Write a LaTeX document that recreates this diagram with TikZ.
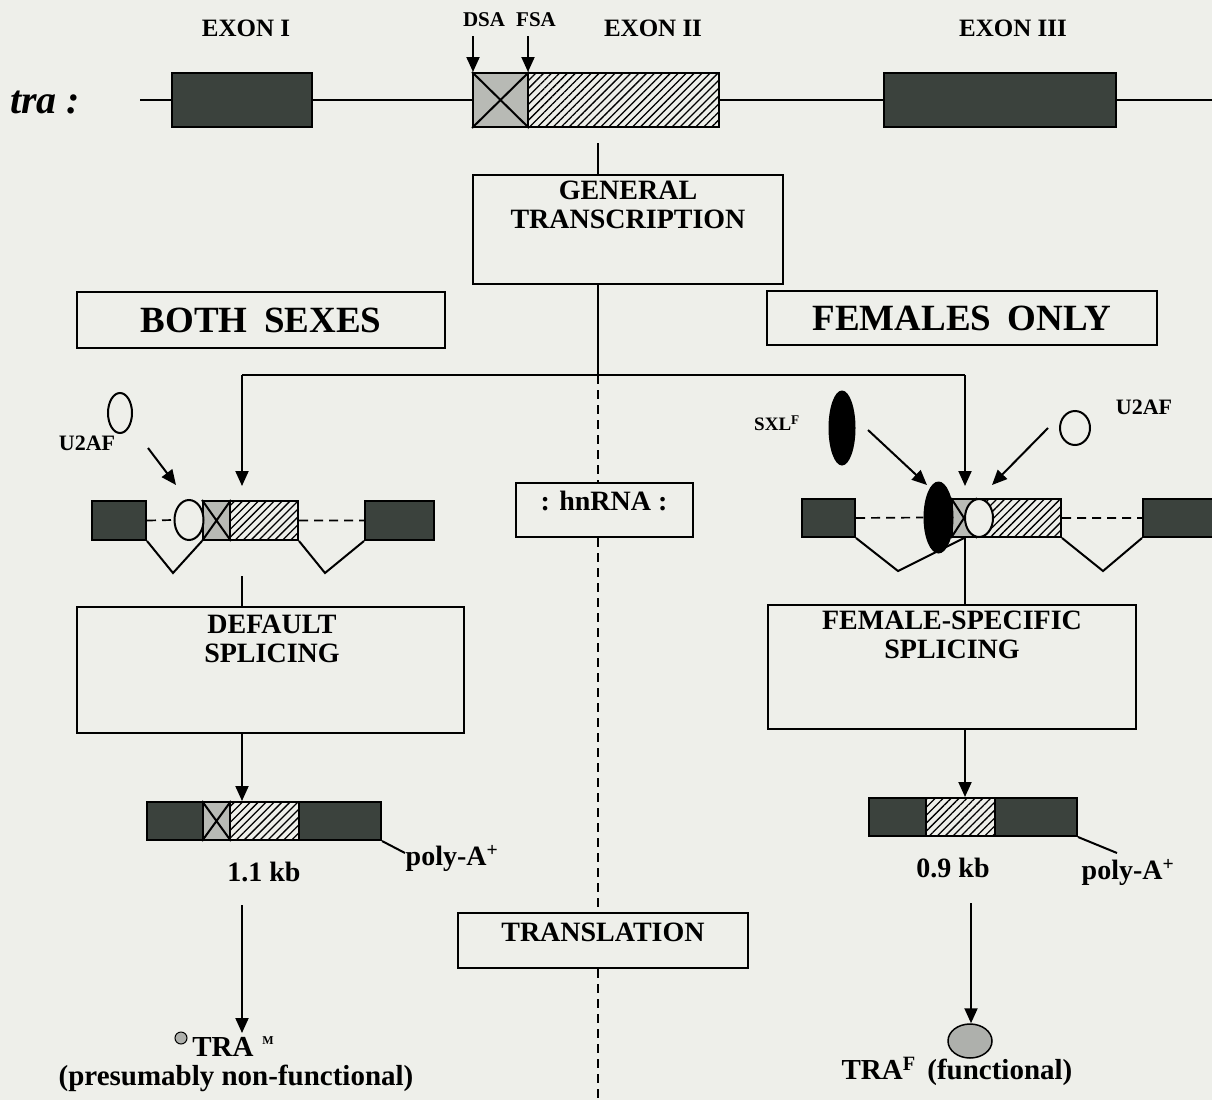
\documentclass[tikz,border=0pt]{standalone}
\usepackage{fontspec}
\setmainfont{Liberation Serif}
\usetikzlibrary{arrows.meta,patterns.meta,shapes.geometric}
\definecolor{bgc}{HTML}{EEEFEA}
\definecolor{exdark}{HTML}{3B423D}
\definecolor{exgray}{HTML}{B8BAB5}
\definecolor{protgray}{HTML}{AEB0AC}
\tikzset{
  ln/.style={line width=2pt},
  arr/.style={line width=2pt,-{Triangle[length=15pt,width=13pt]}},
  dsh/.style={line width=1.7pt,dash pattern=on 9pt off 6pt},
  blk/.style={draw,line width=2pt,inner sep=0},
  dk/.style={blk,fill=exdark},
  gr/.style={blk,fill=exgray},
  ht/.style={blk,pattern={Lines[angle=45,distance=5.6pt,line width=1.3pt]}},
  bx/.style={draw,line width=2pt,inner sep=0},
  txt/.style={inner sep=0,align=center,font=\bfseries\fontsize{#1}{29}\selectfont},
  oval/.style={ellipse,draw,line width=2pt,inner sep=0,fill=bgc},
}
\begin{document}
\begin{tikzpicture}[x=1pt,y=-1pt]
\useasboundingbox (0,0) rectangle (1212,1100);
\fill[bgc] (0,0) rectangle (1212,1100);

% ---------- gene ----------
\node[inner sep=0,font=\bfseries\itshape\fontsize{40}{40}\selectfont] (tra) at (45,103) {tra :};
\node[dk,minimum width=140,minimum height=54] (ex1) at (242,100) {};
\node[gr,minimum width=55,minimum height=54] (ex2g) at (500.5,100) {};
\node[ht,minimum width=191,minimum height=54] (ex2h) at (623.5,100) {};
\node[dk,minimum width=232,minimum height=54] (ex3) at (1000,100) {};
\draw[ln] (ex2g.north west) -- (ex2g.south east) (ex2g.north east) -- (ex2g.south west);
\coordinate (gL) at (140,100);
\coordinate (gR) at (1212,100);
\draw[ln] (gL) -- (ex1.west) (ex1.east) -- (ex2g.west) (ex2h.east) -- (ex3.west) (ex3.east) -- (gR);

\node[txt=25] (lex1) at (246,28) {EXON I};
\node[txt=21] (ldsa) at (484,20) {DSA};
\node[txt=21] (lfsa) at (536,20) {FSA};
\node[txt=25] (lex2) at (653,28) {EXON II};
\node[txt=25] (lex3) at (1013,28) {EXON III};
\coordinate (dsa0) at (473,36);
\coordinate (fsa0) at (528,36);
\draw[arr] (dsa0) -- (dsa0 |- ex2g.north);
\draw[arr] (fsa0) -- (fsa0 |- ex2g.north);

% ---------- general transcription ----------
\coordinate (gt0) at (598,143);
\node[bx,minimum width=310,minimum height=109] (gt) at (628,229.5) {};
\node[txt=28] (gtt) at (628,205) {GENERAL\\TRANSCRIPTION};
\draw[ln] (gt0) -- (gt0 |- gt.north);
\coordinate (split) at (598,375);
\coordinate (spL) at (242,375);
\coordinate (spR) at (965,375);
\draw[ln] (split |- gt.south) -- (split);
\draw[ln] (spL) -- (spR);

\node[bx,txt=37,minimum width=368,minimum height=56] (both) at (261,320) {BOTH\hspace{0.45em}SEXES};
\node[bx,txt=37,minimum width=390,minimum height=54] (fem) at (962,318) {FEMALES\hspace{0.45em}ONLY};

% ---------- middle column ----------
\node[bx,minimum width=177,minimum height=54] (hn) at (604.5,510) {};
\node[txt=28] (hnt) at (604,501) {: hnRNA :};
\node[bx,minimum width=290,minimum height=55] (tr) at (603,940.5) {};
\node[txt=28] (trt) at (603,932) {TRANSLATION};
\coordinate (bottom) at (598,1100);
\draw[dsh] (split) -- (split |- hn.north) (split |- hn.south) -- (split |- tr.north) (split |- tr.south) -- (bottom);

% ---------- left branch ----------
\coordinate (aL) at (242,486);
\draw[arr] (spL) -- (aL);
\node[dk,minimum width=54,minimum height=39] (L1) at (119,520.5) {};
\node[gr,minimum width=27,minimum height=39] (Lg) at (216.5,520.5) {};
\node[ht,minimum width=68,minimum height=39] (Lh) at (264,520.5) {};
\node[dk,minimum width=69,minimum height=39] (L3) at (399.5,520.5) {};
\draw[ln] (Lg.north west) -- (Lg.south east) (Lg.north east) -- (Lg.south west);
\node[oval,minimum width=29,minimum height=40] (Lu) at (189,520) {};
\draw[dsh] (L1.east) -- (Lu.west) (Lh.east) -- (L3.west);
\coordinate (vL1) at (173,573);
\coordinate (vL2) at (325,573);
\draw[ln] (L1.south east) -- (vL1) -- (Lg.south west);
\draw[ln] (Lh.south east) -- (vL2) -- (L3.south west);
\node[oval,minimum width=24,minimum height=40] (Lu0) at (120,413) {};
\node[txt=22] (lu2l) at (87,443) {U2AF};
\coordinate (aLu0) at (148,448);
\coordinate (aLu1) at (176,485);
\draw[arr] (aLu0) -- (aLu1);
\coordinate (Lbelow) at (242,576);
\node[bx,minimum width=387,minimum height=126] (ds) at (270.5,670) {};
\node[txt=28] (dst) at (272,639) {DEFAULT\\SPLICING};
\draw[ln] (Lbelow) -- (Lbelow |- ds.north);

\node[dk,minimum width=56,minimum height=38] (mL1) at (175,821) {};
\node[gr,minimum width=27,minimum height=38] (mLg) at (216.5,821) {};
\node[ht,minimum width=69,minimum height=38] (mLh) at (264.5,821) {};
\node[dk,minimum width=82,minimum height=38] (mL4) at (340,821) {};
\draw[ln] (mLg.north west) -- (mLg.south east) (mLg.north east) -- (mLg.south west);
\draw[arr] (spL |- ds.south) -- (spL |- mLh.north);
\node[txt=28] (pAL) at (452,858) {poly-A\textsuperscript{+}};
\coordinate (pALe) at (405,853);
\draw[ln] (mL4.south east) -- (pALe);
\node[txt=28] (kbL) at (264,872) {1.1 kb};
\coordinate (trL0) at (242,905);
\coordinate (trL1) at (242,1033);
\draw[arr] (trL0) -- (trL1);
\node[circle,draw,line width=1pt,fill=protgray,inner sep=0,minimum size=12] (pm) at (181,1038) {};
\node[txt=29] (traM) at (223,1047) {TRA};
\node[txt=12] (traMs) at (268,1041) {M};
\node[txt=29] (pnf) at (236,1078) {(presumably non-functional)};

% ---------- right branch ----------
\coordinate (aR) at (965,486);
\draw[arr] (spR) -- (aR);
\node[dk,minimum width=53,minimum height=38] (R1) at (828.5,518) {};
\node[gr,minimum width=24,minimum height=38] (Rg) at (964,518) {};
\node[ht,minimum width=85,minimum height=38] (Rh) at (1018.5,518) {};
\node[dk,minimum width=74,minimum height=38] (R3) at (1180,518) {};
\draw[ln] (Rg.north west) -- (Rg.south east) (Rg.north east) -- (Rg.south west);
\node[oval,minimum width=28,minimum height=38] (Ru) at (979,518) {};
\node[ellipse,fill=black,inner sep=0,minimum width=30,minimum height=72] (Sx) at (938.5,517.5) {};
\draw[dsh] (R1.east) -- (Sx.west) (Rh.east) -- (R3.west);
\coordinate (vR1) at (898,571);
\coordinate (vR2) at (1103,571);
\draw[ln] (R1.south east) -- (vR1) -- (Rg.south);
\draw[ln] (Rh.south east) -- (vR2) -- (R3.south west);
\node[ellipse,fill=black,inner sep=0,minimum width=27,minimum height=75] (Sx0) at (842,428) {};
\node[txt=19] (lsxl) at (777,423) {SXL\textsuperscript{F}};
\coordinate (aSx0) at (868,430);
\coordinate (aSx1) at (927,485);
\draw[arr] (aSx0) -- (aSx1);
\node[oval,minimum width=30,minimum height=34] (Ru0) at (1075,428) {};
\node[txt=22] (lu2r) at (1144,407) {U2AF};
\coordinate (aRu0) at (1048,428);
\coordinate (aRu1) at (992,485);
\draw[arr] (aRu0) -- (aRu1);
\node[bx,minimum width=368,minimum height=124] (fs) at (952,667) {};
\node[txt=28] (fst) at (952,635) {FEMALE-SPECIFIC\\SPLICING};
\draw[ln] (spR |- Rg.south) -- (spR |- fs.north);

\node[dk,minimum width=57,minimum height=38] (mR1) at (897.5,817) {};
\node[ht,minimum width=69,minimum height=38] (mRh) at (960.5,817) {};
\node[dk,minimum width=82,minimum height=38] (mR3) at (1036,817) {};
\draw[arr] (spR |- fs.south) -- (spR |- mRh.north);
\node[txt=28] (pAR) at (1128,872) {poly-A\textsuperscript{+}};
\coordinate (pARe) at (1117,853);
\draw[ln] (mR3.south east) -- (pARe);
\node[txt=28] (kbR) at (953,868) {0.9 kb};
\node[ellipse,draw,line width=1.5pt,fill=protgray,inner sep=0,minimum width=44,minimum height=34] (traF) at (970,1041) {};
\coordinate (trR0) at (971,903);
\draw[arr] (trR0) -- (trR0 |- traF.north);
\node[txt=29] (traFt) at (957,1071) {TRA\textsuperscript{F}\hspace{0.4em}(functional)};
\end{tikzpicture}
\end{document}
